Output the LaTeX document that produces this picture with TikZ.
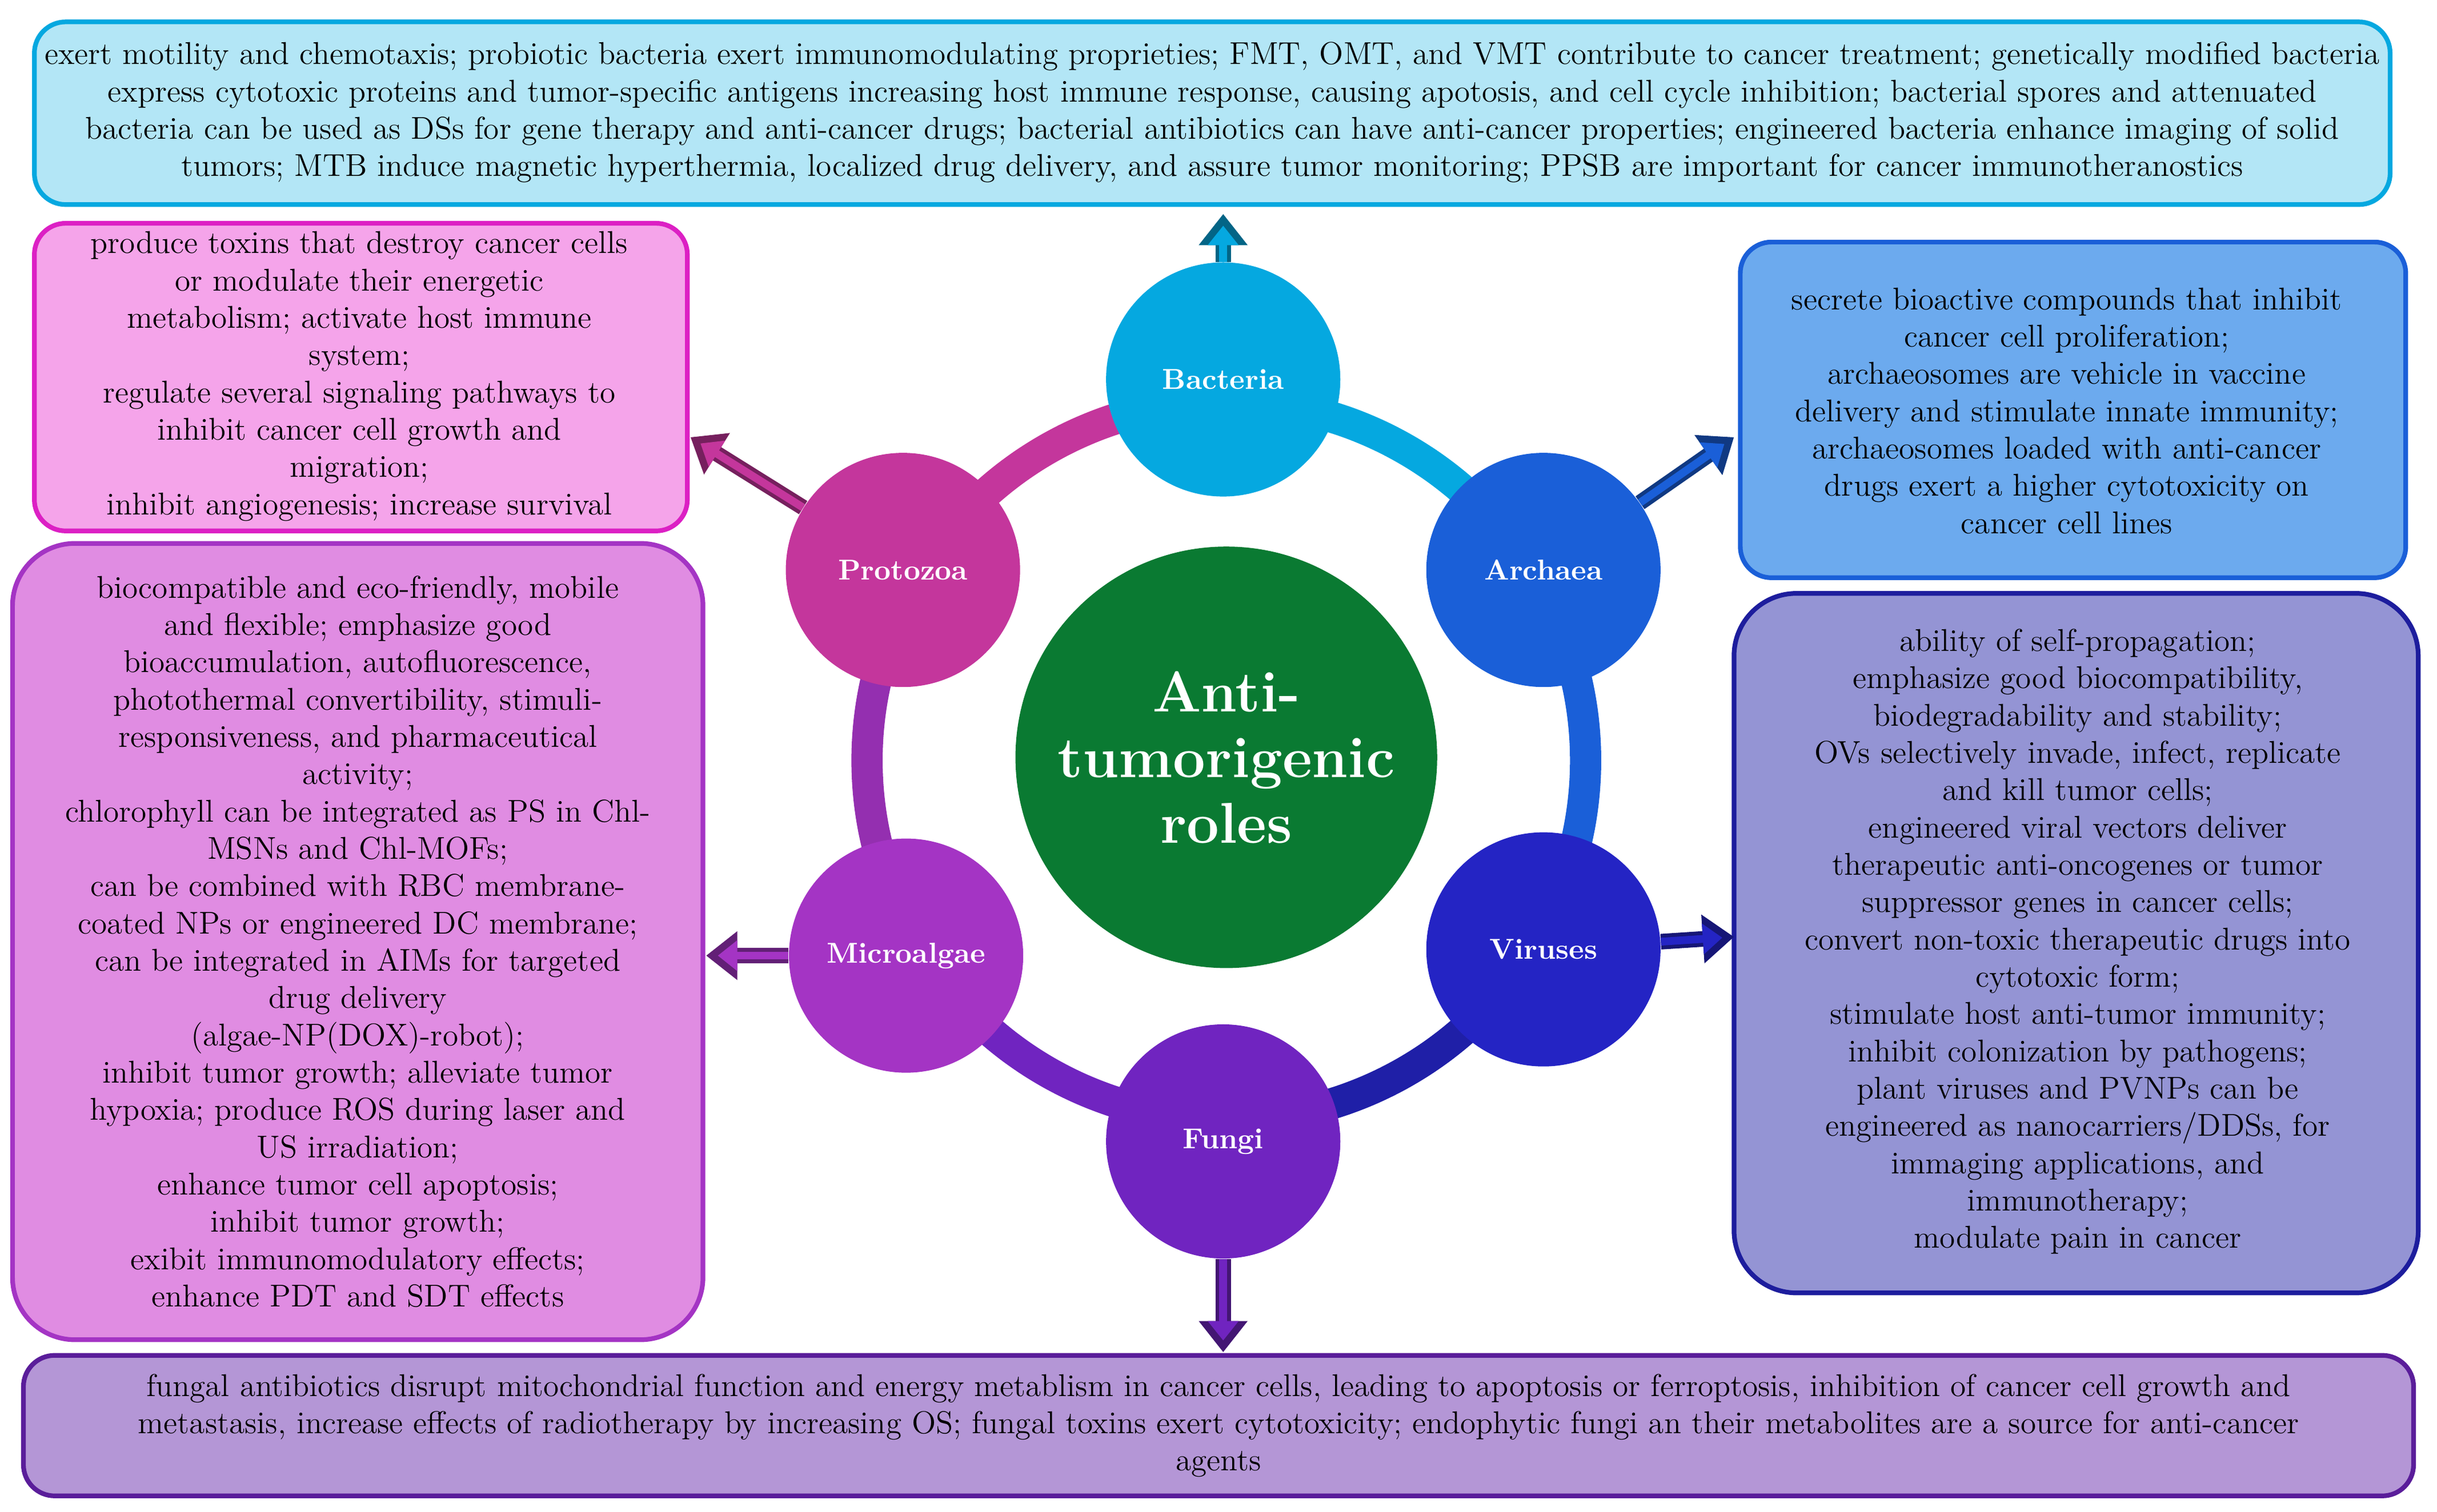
\documentclass[tikz,border=0pt]{standalone}
\usetikzlibrary{arrows.meta}
\definecolor{cBac}{HTML}{05A8E0}
\definecolor{cArc}{HTML}{1A5FD8}
\definecolor{cVir}{HTML}{2424C4}
\definecolor{cFun}{HTML}{7024C0}
\definecolor{cMic}{HTML}{A434C4}
\definecolor{cPro}{HTML}{C4369C}
\definecolor{cCen}{HTML}{0A7A32}
\definecolor{fTop}{HTML}{B3E6F6}
\definecolor{fPro}{HTML}{F5A4EA}
\definecolor{fMic}{HTML}{E08CE2}
\definecolor{fArc}{HTML}{6CAAEE}
\definecolor{fVir}{HTML}{9494D4}
\definecolor{fFun}{HTML}{B496D6}
\begin{document}
\begin{tikzpicture}[x=0.02cm,y=-0.02cm,
  txt/.style={align=center,font=\fontsize{11.5}{13.6}\selectfont,inner sep=0pt},
  box/.style={rounded corners=0.4cm,line width=0.06cm},
  org/.style={circle,minimum size=3cm,inner sep=0pt,text=white,font=\fontsize{10.5}{12}\selectfont\bfseries},
  ring/.style={line width=0.4cm}]
\useasboundingbox (0,0) rectangle (1560,968);
% boxes
\draw[box,fill=fTop,draw=cBac] (22,14) rectangle (1530,131);
\node[txt] (tt) at (776,72) {exert motility\ and chemotaxis; probiotic bacteria exert immunomodulating\ proprieties; FMT, OMT, and VMT contribute to cancer treatment; genetically modified bacteria\\ express cytotoxic proteins and tumor-specific antigens increasing host immune response, causing apotosis, and cell cycle inhibition; bacterial spores and attenuated\\ bacteria can be used as DSs for gene therapy and anti-cancer drugs; bacterial antibiotics can have anti-cancer properties; engineered bacteria enhance imaging of solid\\ tumors; MTB induce magnetic hyperthermia, localized drug delivery, and assure tumor monitoring; PPSB are important for cancer immunotheranostics};
\draw[box,fill=fPro,draw=cPro!60!magenta] (22,143) rectangle (440,340);
\node[txt] (tp) at (230,241) {produce toxins that destroy cancer cells\\ or modulate their energetic\\ metabolism; activate host immune\\ system;\\ regulate several signaling pathways to\\ inhibit cancer cell growth and\\ migration;\\ inhibit angiogenesis; increase survival};
\draw[box,rounded corners=0.8cm,fill=fMic,draw=cMic] (8,348) rectangle (450,858);
\node[txt] (tm) at (229,603) {biocompatible and eco-friendly, mobile\\ and flexible; emphasize good\\ bioaccumulation, autofluorescence,\\ photothermal convertibility, stimuli-\\ responsiveness, and pharmaceutical\\ activity;\\ chlorophyll can be integrated as PS in Chl-\\ MSNs and Chl-MOFs;\\ can be combined with RBC membrane-\\ coated NPs or engineered DC membrane;\\ can be integrated in AIMs for targeted\\ drug delivery\\ (algae-NP(DOX)-robot);\\ inhibit tumor growth; alleviate tumor\\ hypoxia; produce ROS during laser and\\ US irradiation;\\ enhance tumor cell apoptosis;\\ inhibit tumor growth;\\ exibit immunomodulatory effects;\\ enhance PDT and SDT effects};
\draw[box,fill=fArc,draw=cArc] (1114,155) rectangle (1540,370);
\node[txt] (ta) at (1323,263) {secrete bioactive compounds that inhibit\\ cancer cell proliferation;\\ archaeosomes are vehicle in vaccine\\ delivery and stimulate innate immunity;\\ archaeosomes loaded with anti-cancer\\ drugs exert a higher cytotoxicity on\\ cancer cell lines};
\draw[box,rounded corners=0.8cm,fill=fVir,draw=cVir!80!black] (1110,380) rectangle (1548,828);
\node[txt] (tv) at (1330,603) {ability of self-propagation;\\ emphasize good biocompatibility,\\ biodegradability and stability;\\ OVs selectively invade, infect, replicate\\ and kill tumor cells;\\ engineered viral vectors deliver\\ therapeutic anti-oncogenes or tumor\\ suppressor genes in cancer cells;\\ convert non-toxic therapeutic drugs into\\ cytotoxic form;\\ stimulate host anti-tumor immunity;\\ inhibit colonization by pathogens;\\ plant viruses and PVNPs can be\\ engineered as nanocarriers/DDSs, for\\ immaging applications, and\\ immunotherapy;\\ modulate pain in cancer};
\draw[box,fill=fFun,draw=cFun!80!black] (15,868) rectangle (1545,958);
\node[txt] (tf) at (780,913) {fungal antibiotics disrupt mitochondrial function and energy metablism in cancer cells, leading to apoptosis or ferroptosis, inhibition of cancer cell growth and\\ metastasis, increase effects of radiotherapy by increasing OS; fungal toxins exert cytotoxicity; endophytic fungi an their metabolites are a source for anti-cancer\\ agents};
% ring
\begin{scope}[shift={(785,487)},x=0.02cm,y=0.02cm]
\draw[ring,cBac] (90:230) arc (90:30:230);
\draw[ring,cArc] (30:230) arc (30:-30:230);
\draw[ring,cVir!85!black] (-30:230) arc (-30:-90:230);
\draw[ring,cFun] (-90:230) arc (-90:-150:230);
\draw[ring,cMic!90!black] (-150:230) arc (-150:-210:230);
\draw[ring,cPro] (150:230) arc (150:90:230);
\end{scope}
% circles
\node[circle,minimum size=5.4cm,inner sep=0pt,fill=cCen,text=white,align=center,font=\fontsize{21}{24}\selectfont\bfseries] (cen) at (785,485) {Anti-\\tumorigenic\\roles};
\node[org,fill=cBac] (bac) at (783,243) {Bacteria};
\node[org,fill=cArc] (arc) at (988,365) {Archaea};
\node[org,fill=cVir] (vir) at (988,608) {Viruses};
\node[org,fill=cFun] (fun) at (783,731) {Fungi};
\node[org,fill=cMic] (mic) at (580,612) {Microalgae};
\node[org,fill=cPro] (pro) at (578,365) {Protozoa};
% arrows
\coordinate (eb) at (783,137); \coordinate (ep) at (442,280); \coordinate (ea) at (1110,280);
\coordinate (ev) at (1110,600); \coordinate (em) at (452,612); \coordinate (ef) at (783,866);
\foreach \s/\e/\c in {bac/eb/cBac,pro/ep/cPro,arc/ea/cArc,vir/ev/cVir,mic/em/cMic,fun/ef/cFun}{
  \draw[line width=0.2cm,draw=\c!60!black,-{Triangle[width=0.6cm,length=0.4cm]}] (\s) -- (\e);
  \draw[line width=0.1cm,draw=\c,shorten >=0.15cm,-{Triangle[width=0.38cm,length=0.25cm]}] (\s) -- (\e);
}
\end{tikzpicture}
\end{document}
